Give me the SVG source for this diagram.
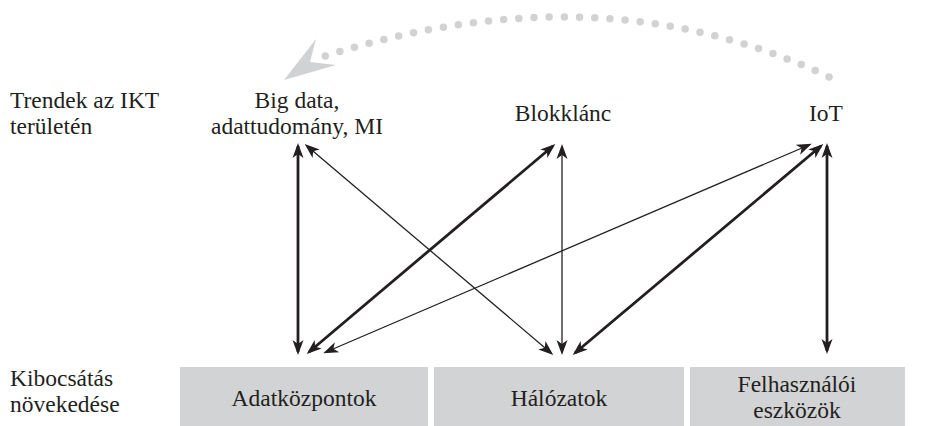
<svg xmlns="http://www.w3.org/2000/svg" width="933" height="426" viewBox="0 0 933 426">
<defs>
<style>
text{font-family:'Liberation Serif','DejaVu Serif',serif;font-size:23.5px;fill:#231f20}
.c{text-anchor:middle}
.box{fill:#d1d3d4}
.thin{stroke:#231f20;stroke-width:1.3;fill:none;marker-start:url(#ah);marker-end:url(#ah)}
.thick{stroke:#231f20;stroke-width:2.8;fill:none;marker-start:url(#ah);marker-end:url(#ah)}
</style>
<marker id="ah" markerUnits="userSpaceOnUse" markerWidth="20" markerHeight="14" viewBox="-14 -7 20 14" refX="0" refY="0" orient="auto-start-reverse">
<path d="M3,0 L-12,-5.5 L-8,0 L-12,5.5 Z" fill="#231f20"/>
</marker>
</defs>
<rect width="933" height="426" fill="#fff"/>
<g font-family="Liberation Serif, DejaVu Serif, serif">
<g id="label-trends">
<text x="10" y="108">Trendek az IKT</text>
<text x="10" y="134">területén</text>
</g>
<g id="label-emission">
<text x="10" y="386">Kibocsátás</text>
<text x="10" y="412">növekedése</text>
</g>
<g id="node-bigdata">
<text class="c" x="297" y="108">Big data,</text>
<text class="c" x="297" y="134">adattudomány, MI</text>
</g>
<g id="node-blokklanc">
<text class="c" x="563" y="121">Blokklánc</text>
</g>
<g id="node-iot">
<text class="c" x="826" y="121">IoT</text>
</g>
<g id="node-adatkozpontok">
<rect class="box" x="180" y="367" width="248" height="59"/>
<text class="c" x="304" y="406">Adatközpontok</text>
</g>
<g id="node-halozatok">
<rect class="box" x="434" y="367" width="250" height="59"/>
<text class="c" x="559" y="406">Hálózatok</text>
</g>
<g id="node-felhasznaloi">
<rect class="box" x="690" y="367" width="215" height="59"/>
<text class="c" x="797" y="392">Felhasználói</text>
<text class="c" x="797" y="418">eszközök</text>
</g>
</g>
<g id="connectors">
<line class="thick" x1="298" y1="146" x2="298" y2="352"/>
<line class="thin" x1="307" y1="146" x2="551" y2="353"/>
<line class="thick" x1="309" y1="352" x2="553" y2="146"/>
<line class="thin" x1="562" y1="147" x2="562" y2="352"/>
<line class="thin" x1="326" y1="352" x2="809" y2="145"/>
<line class="thick" x1="575" y1="353" x2="821" y2="146"/>
<line class="thick" x1="827" y1="146" x2="827" y2="351"/>
<path d="M829,77 Q600,-32 322,57" fill="none" stroke="#d1d2d4" stroke-width="7.5" stroke-linecap="round" stroke-dasharray="0 15.2"/>
<polygon points="284,80 316,39 310,62 336,65" fill="#d1d2d4"/>
</g>
</svg>
